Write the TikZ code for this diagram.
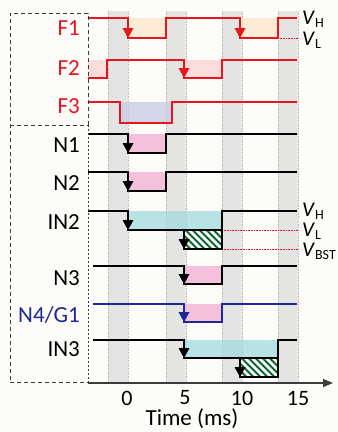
\documentclass[tikz,border=0pt]{standalone}
\usepackage{fontspec}
\setmainfont{Carlito}
\usetikzlibrary{arrows.meta}
\definecolor{bgc}{RGB}{253,252,248}
\definecolor{bandc}{RGB}{228,228,226}
\definecolor{banded}{RGB}{190,190,188}
\definecolor{sred}{RGB}{232,20,30}
\definecolor{snavy}{RGB}{30,40,150}
\definecolor{forange}{RGB}{253,232,205}
\definecolor{fpinkF}{RGB}{250,212,212}
\definecolor{flav}{RGB}{200,205,228}
\definecolor{fpinkN}{RGB}{244,178,214}
\definecolor{fcyan}{RGB}{160,218,224}
\definecolor{fgreen}{RGB}{10,100,50}
\definecolor{boxc}{RGB}{60,60,60}
\newcommand{\darr}[3]{\fill[#3] (#1-5.5,#2-10) -- (#1+5.5,#2-10) -- (#1,#2) -- cycle;}
\newcommand{\hatchbox}[4]{%
  \fill[fgreen] (#1,#2) rectangle (#3,#4);
  \begin{scope}
    \clip (#1,#2) rectangle (#3,#4);
    \foreach \k in {-30,-23,...,60}{
      \draw[white, line width=2.6pt] (#1+\k,#2) -- ++(25,25);
    }
  \end{scope}
  \draw[black, line width=2pt] (#1,#2) rectangle (#3,#4);}
\newcommand{\vlab}[1]{{\fontsize{21}{21}\selectfont\textit{V}}{\fontsize{14}{14}\selectfont\raisebox{-3pt}{#1}}}
\begin{document}
\begin{tikzpicture}[x=1pt,y=-1pt,
  sig/.style={line width=2pt, line join=miter},
  shade/.style={opacity=0.8},
  lab/.style={anchor=east, font=\fontsize{23}{23}\selectfont, inner sep=0pt},
  rlab/.style={anchor=west, inner sep=0pt},
  tick/.style={font=\fontsize{22}{22}\selectfont, inner sep=0pt},
  refl/.style={sred, line width=0.6pt, densely dotted}]
\useasboundingbox (0,0) rectangle (338,432);
\fill[bgc] (0,0) rectangle (338,432);
% gray bands
\foreach \a/\b in {108/128,166/186,222/242,278/298}{
  \fill[bandc] (\a,11) rectangle (\b,382);
  \draw[banded, line width=0.6pt, densely dotted] (\a,11) -- (\a,382) (\b,11) -- (\b,382);
}
% shadings
\fill[forange, shade] (128,18) rectangle (166,38);
\fill[forange, shade] (240,18) rectangle (278,38);
\fill[fpinkF, shade] (88,60) rectangle (107,78);
\fill[fpinkF, shade] (184,60) rectangle (222,78);
\fill[flav, shade] (120,102) rectangle (172,123);
\fill[fpinkN, shade] (128,134) rectangle (166,153);
\fill[fpinkN, shade] (128,172) rectangle (166,191);
\fill[fcyan, opacity=0.75] (128,211) rectangle (222,230);
\fill[fpinkN, shade] (184,266) rectangle (222,284);
\fill[fpinkN, shade] (184,304) rectangle (222,322);
\fill[fcyan, opacity=0.75] (184,340) rectangle (278,358);
\hatchbox{184}{230}{222}{249}
\hatchbox{240}{358}{278}{377}
% reference dotted lines
\draw[refl] (278,38) -- (298,38);
\draw[refl] (222,230) -- (298,230);
\draw[refl] (222,249) -- (298,249);
% waveforms
\draw[sig, sred] (88,18) -- (128,18) -- (128,38) -- (166,38) -- (166,18) -- (240,18) -- (240,38) -- (278,38) -- (278,18) -- (297,18);
\draw[sig, sred] (88,78) -- (107,78) -- (107,60) -- (184,60) -- (184,78) -- (222,78) -- (222,60) -- (297,60);
\draw[sig, sred] (88,102) -- (120,102) -- (120,123) -- (172,123) -- (172,102) -- (297,102);
\draw[sig, black] (88,134) -- (128,134) -- (128,153) -- (166,153) -- (166,134) -- (297,134);
\draw[sig, black] (88,172) -- (128,172) -- (128,191) -- (166,191) -- (166,172) -- (297,172);
\draw[sig, black] (88,211) -- (128,211) -- (128,230) -- (184,230) -- (184,249) -- (222,249) -- (222,211) -- (297,211);
\draw[sig, black] (93,266) -- (184,266) -- (184,284) -- (222,284) -- (222,266) -- (297,266);
\draw[sig, snavy] (93,304) -- (184,304) -- (184,322) -- (222,322) -- (222,304) -- (297,304);
\draw[sig, black] (93,340) -- (184,340) -- (184,358) -- (240,358) -- (240,377) -- (278,377) -- (278,340) -- (297,340);
% arrowheads
\darr{128}{38}{sred}
\darr{240}{38}{sred}
\darr{184}{78}{sred}
\darr{128}{153}{black}
\darr{128}{191}{black}
\darr{128}{230}{black}
\darr{184}{249}{black}
\darr{184}{284}{black}
\darr{184}{322}{snavy}
\darr{184}{358}{black}
\darr{240}{377}{black}
% dashed boxes
\draw[boxc, line width=1pt, dash pattern=on 4pt off 3pt] (88,125) -- (88,13) -- (10,13) -- (10,382);
\draw[boxc, line width=1pt, dash pattern=on 4pt off 3pt] (10,125) -- (88,125);
\draw[boxc, line width=1pt, dash pattern=on 4pt off 3pt] (10,382) -- (88,382);
\draw[boxc, line width=1pt, dash pattern=on 2pt off 2pt] (88,125) -- (88,382);
% time axis
\draw[boxc, line width=1.2pt, -{Triangle[width=8pt,length=10pt]}] (88,383) -- (333,383);
% left labels
\node[lab, sred] (lF1) at (80,28) {F1};
\node[lab, sred] (lF2) at (80,68) {F2};
\node[lab, sred] (lF3) at (80,106) {F3};
\node[lab] (lN1) at (80,145) {N1};
\node[lab] (lN2) at (80,183) {N2};
\node[lab] (lIN2) at (80,222) {IN2};
\node[lab] (lN3) at (80,278) {N3};
\node[lab, snavy] (lN4) at (80,315) {N4/G1};
\node[lab] (lIN3) at (80,349) {IN3};
% right labels
\node[rlab] (vh1) at (302,19) {\vlab{H}};
\node[rlab] (vl1) at (302,40) {\vlab{L}};
\node[rlab] (vh2) at (302,211) {\vlab{H}};
\node[rlab] (vl2) at (302,231) {\vlab{L}};
\node[rlab] (vb2) at (302,251) {\vlab{BST}};
% ticks
\node[tick] (t0) at (127,398) {0};
\node[tick] (t5) at (185,398) {5};
\node[tick] (t10) at (242,398) {10};
\node[tick] (t15) at (298,398) {15};
\node[tick, font=\fontsize{23}{23}\selectfont] (tl) at (192,419) {Time (ms)};
\end{tikzpicture}
\end{document}
